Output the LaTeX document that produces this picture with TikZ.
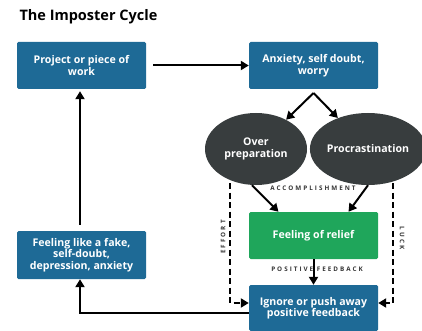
\documentclass[tikz,border=0pt]{standalone}
\usepackage{fontspec}
\setmainfont{Open Sans}
\newfontfamily\tagfont[LetterSpace=32]{Open Sans}
\usetikzlibrary{arrows.meta, positioning, shapes.geometric}
\definecolor{cycleblue}{HTML}{1E6A96}
\definecolor{reliefgreen}{HTML}{1FA65B}
\definecolor{bubblegrey}{HTML}{383D3E}

\begin{document}
\begin{tikzpicture}[x=1pt, y=-1pt,
  box/.style={rectangle, rounded corners=1.5pt, fill=cycleblue, text=white, align=center,
    font=\bfseries\fontsize{10.6}{11.5}\selectfont, minimum width=129pt, minimum height=47pt, inner sep=2pt},
  bubble/.style={ellipse, fill=bubblegrey, text=white, align=center,
    font=\bfseries\fontsize{10.6}{11.5}\selectfont, minimum width=102pt, minimum height=72pt, inner sep=0pt},
  arr/.style={-{Triangle[length=8pt,width=9pt]}, line width=2pt},
  dasharr/.style={arr, dash pattern=on 6pt off 3.5pt},
  tag/.style={font=\tagfont\bfseries\fontsize{6.3}{7}\selectfont, text=black!80}]
  \useasboundingbox (0,0) rectangle (422,331);
  % the imposter cycle
  \node[anchor=west, font=\bfseries\fontsize{14.5}{16}\selectfont] (title) at (16,17) {The Imposter Cycle};

  \node[box] (project) at (81.5,65.5) {Project or piece of\\work};
  \node[box] (anxiety) at (313.5,65.5) {Anxiety, self doubt,\\worry};
  \node[bubble] (over) at (256,149) {Over\\preparation};
  \node[bubble, minimum width=100pt] (procrast) at (368,149) {Procrastination};
  \node[box, fill=reliefgreen] (relief) at (313.5,235.5) {Feeling of relief};
  \node[box, minimum height=46pt] (ignore) at (313.5,308) {Ignore or push away\\positive feedback};
  \node[box, minimum height=48pt] (fake) at (81.5,255) {Feeling like a fake,\\self-doubt,\\depression, anxiety};

  \coordinate (split) at (313.5,93);
  \coordinate (effort) at (230,183);
  \coordinate (luck) at (393,183);

  \node[tag] (accomp) at (313,188) {ACCOMPLISHMENT};
  \node[tag] (posfb) at (317,269) {POSITIVE FEEDBACK};
  \node[tag, rotate=90] (efforttag) at (223,237) {EFFORT};
  \node[tag, rotate=-90] (lucktag) at (402,238) {LUCK};

  \draw[arr] ([xshift=7pt]project.east) -- (anxiety.west);
  \draw[arr] (split) -- (over);
  \draw[arr] (split) -- (procrast);
  \draw[arr] ([xshift=-4pt]over.south) -- ([xshift=-35pt]relief.north);
  \draw[arr] (procrast.south) -- ([xshift=35pt]relief.north);
  \draw[arr] (relief) -- (ignore);
  \draw[dasharr] (effort) |- ([yshift=5pt]ignore.west);
  \draw[dasharr] (luck) |- ([yshift=5pt]ignore.east);
  \draw[arr] ([yshift=-5pt]ignore.west) -| ([xshift=-1.5pt]fake.south);
  \draw[arr, shorten >=2pt] ([xshift=-1.5pt, yshift=6pt]fake.north) -- ([xshift=-1.5pt]project.south);
\end{tikzpicture}
\end{document}
